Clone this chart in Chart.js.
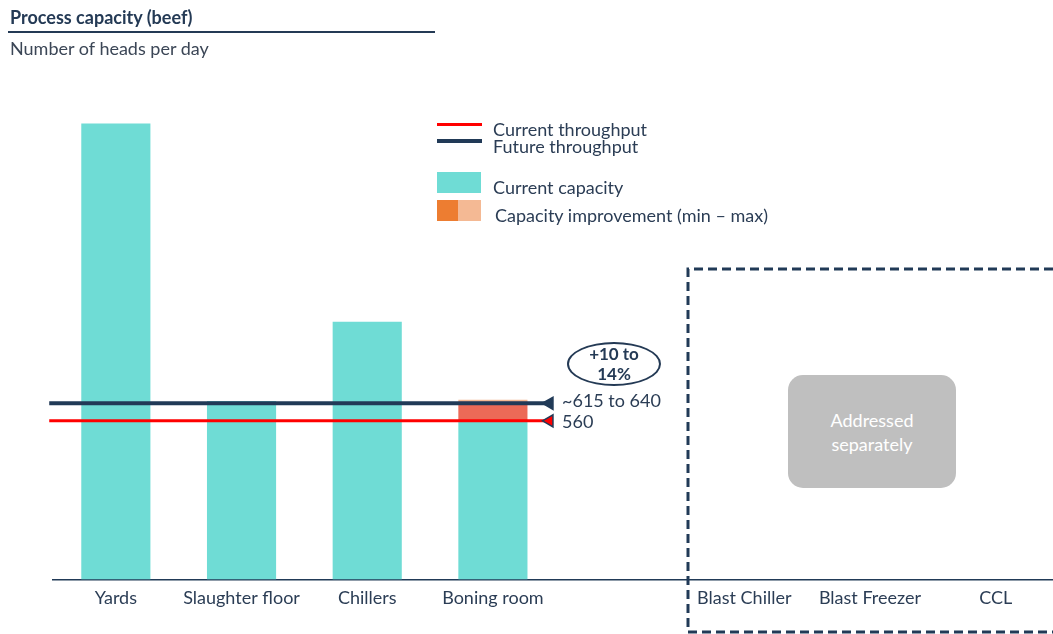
<!DOCTYPE html>
<html>
<head>
<meta charset="utf-8">
<script src="https://cdn.jsdelivr.net/npm/chart.js@4"></script>
<style>
  body { margin: 0; overflow: hidden; background: #fff; font-family: Lato, "Open Sans", sans-serif; color: #2B3D55; }
  #wrap { position: absolute; left: 0; top: 0; width: 1067px; height: 634px; }
  .abs { position: absolute; white-space: nowrap; }
  .title { left: 10px; top: 8px; font-weight: bold; font-size: 18px; line-height: 18px; color: #243A55; }
  .rule { left: 8px; top: 31px; width: 427px; height: 2px; background: #243A55; }
  .sub { left: 10px; top: 39px; font-size: 18px; line-height: 18px; color: #3B4656; }
  .leg { font-size: 18px; line-height: 18px; color: #2B3D55; }
  .sw { position: absolute; }
  .box { left: 788px; top: 375px; width: 168px; height: 113px; background: #BFBFBF; border-radius: 15px;
         color: #fff; font-size: 18px; line-height: 24px; text-align: center; display: flex; align-items: center; justify-content: center; }
  .oval { left: 567px; top: 342px; width: 90px; height: 40px; border: 2px solid #243A55; border-radius: 50%;
          font-weight: bold; font-size: 17px; line-height: 20px; text-align: center; color: #243A55; }
  .val { font-size: 18px; line-height: 18px; color: #2B3D55; }
</style>
</head>
<body>
<div id="wrap"><canvas id="capacityChart"></canvas></div>

<div class="abs title">Process capacity (beef)</div>
<div class="abs rule"></div>
<div class="abs sub">Number of heads per day</div>

<div class="sw" style="left:437px;top:123px;width:45px;height:3px;background:#FF0000"></div>
<div class="sw" style="left:437px;top:139px;width:45px;height:4px;background:#213A57"></div>
<div class="abs leg" style="left:493px;top:120px">Current throughput</div>
<div class="abs leg" style="left:493px;top:137px">Future throughput</div>
<div class="sw" style="left:437px;top:172px;width:44px;height:21px;background:#6FDCD5"></div>
<div class="sw" style="left:437px;top:200px;width:21px;height:21px;background:#ED7D31"></div>
<div class="sw" style="left:458px;top:200px;width:23px;height:21px;background:#F4B994"></div>
<div class="abs leg" style="left:493px;top:178px">Current capacity</div>
<div class="abs leg" style="left:495px;top:206px">Capacity improvement (min – max)</div>

<div class="abs oval">+10 to<br>14%</div>
<div class="abs val" style="left:562px;top:391px">~615 to 640</div>
<div class="abs val" style="left:562px;top:412px">560</div>

<div class="abs box">Addressed<br>separately</div>

<script>
// process steps; the blank slot separates the cold-chain steps
const steps = ['Yards', 'Slaughter floor', 'Chillers', 'Boning room', '', 'Blast Chiller', 'Blast Freezer', 'CCL'];
const currentCapacity = [1610, 630, 910, 560, null, null, null, null];
const improvementMin = [null, null, null, 628, null, null, null, null];
const improvementMax = [null, null, null, 634, null, null, null, null];

const currentThroughput = 560;
const futureThroughput = 622;
// throughput lines run from the left edge to just past the boning room
const lineFrom = -0.53;
const lineTo = 3.45;

const navy = '#213A57';

// floating bars for the min and max improvement on top of current capacity
const minSeg = improvementMin.map((v, i) => v == null ? null : [currentCapacity[i], v]);
const maxSeg = improvementMax.map((v, i) => v == null ? null : [improvementMin[i], v]);

function throughputLine(value, color, width, border) {
  return {
    type: 'line',
    xAxisID: 'x2',
    data: [{ x: lineFrom, y: value }, { x: lineTo, y: value }],
    borderColor: color,
    borderWidth: width,
    pointStyle: 'triangle',
    pointRotation: 270,
    pointRadius: [0, 7],
    pointBackgroundColor: color,
    pointBorderColor: border,
    pointBorderWidth: 1.5,
    clip: false,
    order: 0
  };
}

// dashed frame round the steps handled elsewhere
const dashedFrame = {
  id: 'dashedFrame',
  afterDraw(chart) {
    const ctx = chart.ctx;
    ctx.save();
    ctx.strokeStyle = navy;
    ctx.lineWidth = 3;
    ctx.setLineDash([9, 5]);
    ctx.beginPath();
    ctx.moveTo(1067, 269);
    ctx.lineTo(688, 269);
    ctx.lineTo(688, 632);
    ctx.lineTo(1067, 632);
    ctx.stroke();
    ctx.restore();
  }
};

new Chart(document.getElementById('capacityChart'), {
  data: {
    labels: steps,
    datasets: [
      throughputLine(futureThroughput, navy, 4, navy),
      throughputLine(currentThroughput, '#FF0000', 3, navy),
      { type: 'bar', data: maxSeg, backgroundColor: '#F4B994', order: 3 },
      { type: 'bar', data: minSeg, backgroundColor: '#EC6A57', order: 2 },
      { type: 'bar', data: currentCapacity, backgroundColor: '#6FDCD5', order: 4 }
    ]
  },
  options: {
    responsive: true,
    maintainAspectRatio: false,
    animation: false,
    layout: { padding: { left: 53, right: 3, top: 98, bottom: 17 } },
    datasets: { bar: { grouped: false, categoryPercentage: 1, barPercentage: 0.55 } },
    plugins: { legend: { display: false }, tooltip: { enabled: false } },
    scales: {
      x: {
        offset: true,
        grid: { display: false, drawTicks: false },
        border: { display: true, color: navy, width: 1.5 },
        ticks: { padding: 8, color: '#2B3D55', font: { family: 'Lato', size: 18 }, maxRotation: 0, autoSkip: false }
      },
      x2: { type: 'linear', display: false, min: -0.5, max: 7.5 },
      y: { display: false, min: 0, max: 1700 }
    }
  },
  plugins: [dashedFrame]
});
</script>
</body>
</html>
